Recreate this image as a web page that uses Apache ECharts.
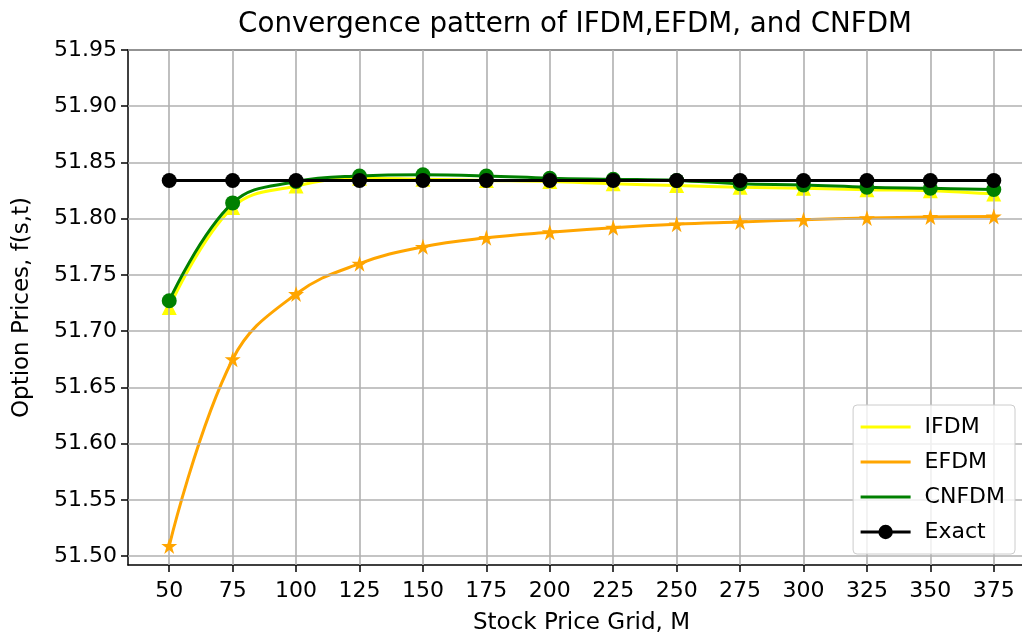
<!DOCTYPE html>
<html>
<head>
<meta charset="utf-8">
<script src="https://cdn.jsdelivr.net/npm/echarts@6/dist/echarts.min.js"></script>
<style>
  html, body { margin: 0; padding: 0; background: #fff; }
  #chart { width: 1022px; height: 635px; }
</style>
</head>
<body>
<div id="chart"></div>
<script>
// grid sizes M
const gridM = [50, 75, 100, 125, 150, 175, 200, 225, 250, 275, 300, 325, 350, 375];
const ifdm = [51.721, 51.810, 51.829, 51.836, 51.835, 51.834, 51.833, 51.831, 51.8295, 51.828, 51.827, 51.8257, 51.8248, 51.822];
const efdm = [51.509, 51.675, 51.733, 51.760, 51.775, 51.783, 51.788, 51.792, 51.795, 51.797, 51.799, 51.8005, 51.8015, 51.802];
const cnfdm = [51.727, 51.814, 51.833, 51.838, 51.839, 51.838, 51.836, 51.835, 51.834, 51.831, 51.830, 51.828, 51.827, 51.826];
const exact = [51.834, 51.834, 51.834, 51.834, 51.834, 51.834, 51.834, 51.834, 51.834, 51.834, 51.834, 51.834, 51.834, 51.834];
const yTicks = [51.50, 51.55, 51.60, 51.65, 51.70, 51.75, 51.80, 51.85, 51.90, 51.95];

const pairs = arr => gridM.map((m, i) => [m, arr[i]]);
const font = "DejaVu Sans";
const star = "path://M0,-1L0.2245,-0.309L0.951,-0.309L0.363,0.118L0.588,0.809L0,0.382L-0.588,0.809L-0.363,0.118L-0.951,-0.309L-0.2245,-0.309Z";
// legend entries that show only a line
const lineOnly = name => ({ name: name, itemStyle: { opacity: 0 } });

let myChart = echarts.init(document.getElementById("chart"), null, { renderer: "canvas" });
let option = {
  animation: false,
  backgroundColor: "#fff",
  textStyle: { fontFamily: font, color: "#000" },
  graphic: [
    {
      type: "text",
      x: 575,
      y: 25,
      style: {
        text: "Convergence pattern of IFDM,EFDM, and CNFDM",
        font: "27.7px 'DejaVu Sans'",
        fill: "#000",
        align: "center",
        verticalAlign: "middle"
      }
    }
  ],
  grid: { left: 128, top: 50, right: -13, bottom: 70, outerBoundsMode: "none", containLabel: false },
  legend: {
    orient: "vertical",
    right: 7,
    top: 405,
    z: 50,
    data: [lineOnly("IFDM"), lineOnly("EFDM"), lineOnly("CNFDM"), "Exact"],
    itemWidth: 50,
    itemHeight: 18,
    itemGap: 13,
    padding: [11, 10, 11, 6],
    lineStyle: { width: 3 },
    backgroundColor: "rgba(255,255,255,0.8)",
    borderColor: "#cccccc",
    borderWidth: 1,
    borderRadius: 4,
    textStyle: { fontFamily: font, fontSize: 22, color: "#000", padding: [0, 0, 0, 9] }
  },
  xAxis: [
    {
      type: "value",
      min: 33.75,
      max: 391.25,
      name: "Stock Price Grid, M",
      nameLocation: "middle",
      nameGap: 47,
      nameTextStyle: { fontFamily: font, fontSize: 23, color: "#000" },
      axisLine: { lineStyle: { color: "#000", width: 1.5 } },
      axisTick: { customValues: gridM, length: 7, lineStyle: { color: "#000", width: 1.5 } },
      axisLabel: { customValues: gridM, fontFamily: font, fontSize: 22, color: "#000", margin: 15 },
      splitLine: { show: false }
    },
    {
      type: "value",
      position: "top",
      min: 33.75,
      max: 391.25,
      axisLine: { show: true, onZero: false, lineStyle: { color: "#000", width: 1.5 } },
      axisTick: { show: false },
      axisLabel: { show: false },
      splitLine: { show: false }
    }
  ],
  yAxis: {
    type: "value",
    min: 51.492,
    max: 51.95,
    name: "Option Prices, f(s,t)",
    nameLocation: "middle",
    nameGap: 94,
    nameTextStyle: { fontFamily: font, fontSize: 23, color: "#000" },
    axisLine: { show: true, lineStyle: { color: "#000", width: 1.5 } },
    axisTick: { show: true, customValues: yTicks, length: 7, lineStyle: { color: "#000", width: 1.5 } },
    axisLabel: {
      customValues: yTicks,
      fontFamily: font,
      fontSize: 22,
      color: "#000",
      margin: 11,
      formatter: v => v.toFixed(2)
    },
    splitLine: { show: false }
  },
  series: [
    {
      name: "gridlines",
      type: "line",
      data: [],
      silent: true,
      z: 1,
      markLine: {
        silent: true,
        symbol: "none",
        label: { show: false },
        animation: false,
        lineStyle: { color: "#b0b0b0", width: 1.6, type: "solid" },
        data: gridM.map(m => ({ xAxis: m })).concat(yTicks.map(t => ({ yAxis: t })))
      }
    },
    {
      name: "IFDM",
      type: "line",
      data: pairs(ifdm),
      smooth: 0.4,
      symbol: "none",
      z: 2,
      itemStyle: { color: "#ffff00" },
      lineStyle: { color: "#ffff00", width: 3 }
    },
    {
      name: "IFDM pts",
      type: "scatter",
      data: pairs(ifdm),
      symbol: "triangle",
      symbolSize: 15,
      z: 3,
      itemStyle: { color: "#ffff00", opacity: 1 }
    },
    {
      name: "EFDM",
      type: "line",
      data: pairs(efdm),
      smooth: 0.4,
      symbol: "none",
      z: 4,
      itemStyle: { color: "#ffa500" },
      lineStyle: { color: "#ffa500", width: 3 }
    },
    {
      name: "EFDM pts",
      type: "scatter",
      data: pairs(efdm),
      symbol: star,
      symbolSize: 16,
      z: 5,
      itemStyle: { color: "#ffa500", opacity: 1 }
    },
    {
      name: "CNFDM",
      type: "line",
      data: pairs(cnfdm),
      smooth: 0.4,
      symbol: "none",
      z: 6,
      itemStyle: { color: "#008000" },
      lineStyle: { color: "#008000", width: 3 }
    },
    {
      name: "CNFDM pts",
      type: "scatter",
      data: pairs(cnfdm),
      symbol: "circle",
      symbolSize: 15,
      z: 7,
      itemStyle: { color: "#008000", opacity: 1 }
    },
    {
      name: "Exact",
      type: "line",
      data: pairs(exact),
      symbol: "circle",
      symbolSize: 15,
      showAllSymbol: true,
      z: 8,
      itemStyle: { color: "#000", borderWidth: 0 },
      lineStyle: { color: "#000", width: 3 }
    }
  ]
};
myChart.setOption(option);
</script>
</body>
</html>
